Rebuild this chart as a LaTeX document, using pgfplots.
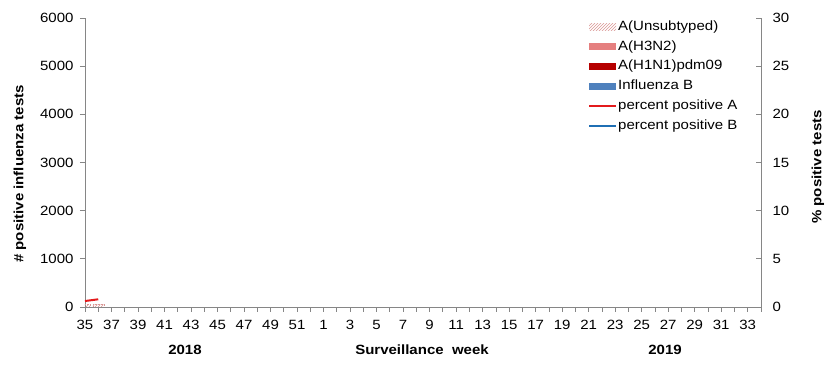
\documentclass[border=0pt]{standalone}
\usepackage{fontspec}
\setmainfont{Liberation Sans}[FakeStretch=1.12]
\usepackage{pgfplots}
\pgfplotsset{compat=1.18}
\usetikzlibrary{patterns}
\definecolor{axisgray}{HTML}{868686}
\definecolor{unsub}{HTML}{D99694}
\definecolor{hthree}{HTML}{E57F7F}
\definecolor{hone}{HTML}{B50000}
\definecolor{flub}{HTML}{4F81BD}
\definecolor{redline}{HTML}{E31A1C}
\definecolor{blueline}{HTML}{1F6FB4}
\pgfplotsset{
  lineleg/.style={legend image code/.code={\draw[##1] (0pt,0pt) -- (27pt,0pt);}},
}
\begin{document}
\begin{tikzpicture}[font=\fontsize{13.4}{15}\selectfont]
\useasboundingbox (-85pt,-59pt) rectangle (755pt,307pt);
\begin{axis}[
  scale only axis, width=676pt, height=289pt,
  at={(0pt,0pt)}, anchor=south west,
  xmin=0, xmax=51, ymin=0, ymax=6000,
  axis x line*=bottom, axis y line*=left,
  axis line style={draw=axisgray, line width=0.8pt},
  xtick={0,...,51},
  xticklabels={35,,37,,39,,41,,43,,45,,47,,49,,51,,1,,3,,5,,7,,9,,11,,13,,15,,17,,19,,21,,23,,25,,27,,29,,31,,33,},
  xticklabel style={yshift=-5pt},
  yticklabel style={xshift=-3pt},
  ytick={0,1000,...,6000},
  tick align=outside, major tick length=5pt,
  tick style={draw=axisgray, line width=0.8pt},
  scaled y ticks=false,
  /pgf/number format/assume math mode=true,
  /pgf/number format/1000 sep={},
  ybar stacked, bar width=11pt,
]
\addplot[draw=unsub, dash pattern=on 2pt off 1pt, pattern=north east lines, pattern color=unsub] coordinates {(0,55) (1,60)};
\addplot[draw=none, fill=hthree] coordinates {(0,0) (1,0)};
\addplot[draw=none, fill=hone] coordinates {(0,0) (1,0)};
\addplot[draw=none, fill=flub] coordinates {(0,0) (1,0)};
\end{axis}
\begin{axis}[
  scale only axis, width=676pt, height=289pt,
  at={(0pt,0pt)}, anchor=south west,
  xmin=0, xmax=51, ymin=0, ymax=30,
  axis x line=none, axis y line*=right,
  axis line style={draw=axisgray, line width=0.8pt},
  ytick={0,5,...,30},
  yticklabel style={xshift=8pt},
  tick align=inside, major tick length=5pt,
  tick style={draw=axisgray, line width=0.8pt},
  /pgf/number format/assume math mode=true,
  legend style={at={(0.7396,1.003)}, anchor=north west, draw=none, fill=none,
    font=\fontsize{13.4}{15}\selectfont, row sep=4.8pt,
    nodes={inner sep=1pt, text height=10pt, text depth=3pt}},
  legend cell align=left,
]
\addlegendimage{draw=none, legend image code/.code={\path[draw=none, pattern=north east lines, pattern color=unsub] (0pt,-3.5pt) rectangle (27pt,3.5pt);}}
\addlegendentry{A(Unsubtyped)}
\addlegendimage{draw=none, legend image code/.code={\path[draw=none, fill=hthree] (0pt,-3.5pt) rectangle (27pt,3.5pt);}}
\addlegendentry{A(H3N2)}
\addlegendimage{draw=none, legend image code/.code={\path[draw=none, fill=hone] (0pt,-3.5pt) rectangle (27pt,3.5pt);}}
\addlegendentry{A(H1N1)pdm09}
\addlegendimage{draw=none, legend image code/.code={\path[draw=none, fill=flub] (0pt,-3.5pt) rectangle (27pt,3.5pt);}}
\addlegendentry{Influenza B}
\addplot[lineleg, redline, line width=2pt] coordinates {(0,0.62) (1,0.8)};
\addlegendentry{percent positive A}
\addlegendimage{lineleg, blueline, line width=2pt}
\addlegendentry{percent positive B}
\end{axis}
\node[rotate=90, font=\fontsize{13.4}{15}\selectfont\bfseries] at (-65pt,133pt) {\# positive influenza tests};
\node[rotate=90, font=\fontsize{13.4}{15}\selectfont\bfseries] at (733pt,140pt) {\% positive tests};
\node[font=\fontsize{13.4}{15}\selectfont\bfseries] at (100pt,-43pt) {2018};
\node[font=\fontsize{13.4}{15}\selectfont\bfseries] at (337pt,-43pt) {Surveillance\ \ week};
\node[font=\fontsize{13.4}{15}\selectfont\bfseries] at (580pt,-43pt) {2019};
\end{tikzpicture}
\end{document}
